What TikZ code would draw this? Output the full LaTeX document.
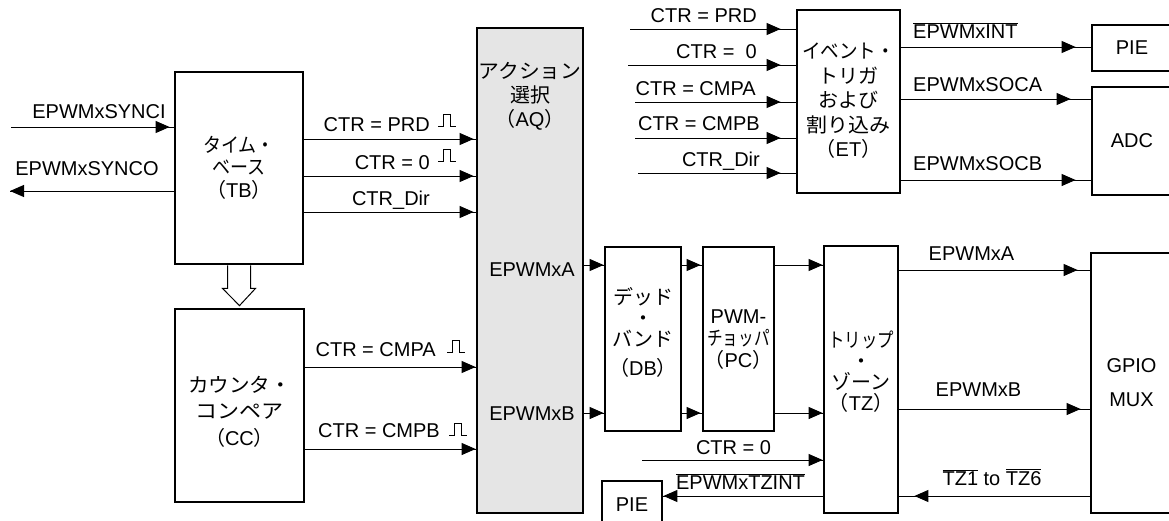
\documentclass[tikz,border=0pt]{standalone}
\usepackage{fontspec}
\usepackage{graphicx}
\setmainfont{Liberation Sans}
\newfontfamily\jp{Noto Sans CJK JP}
\usetikzlibrary{arrows.meta,calc}
\newcommand\ovl[1]{$\overline{\mbox{#1}}$}
\newcommand\hs[2]{\scalebox{#1}[1]{\jp #2}}
\tikzset{
  blk/.style={draw, line width=2.8pt, inner sep=0pt, align=center},
  txt/.style={inner sep=0pt, align=center, font=\fontsize{20}{#1}\selectfont},
  txt/.default=23,
  lbl/.style={inner sep=0pt},
  con/.style={line width=1pt},
  arr/.style={con, postaction={draw, shorten >=#1, -{Triangle[length=14pt,width=12pt]}}},
  arr/.default=0pt,
  pls/.pic={\draw[line width=1pt] (0,0) -- (5,0) -- (5,-12) -- (12,-12) -- (12,0) -- (18,0);}
}
\begin{document}
\begin{tikzpicture}[x=1pt,y=-1pt,font=\fontsize{20}{23}\selectfont]
\path[use as bounding box] (0,0) rectangle (1169,520);
\clip (0,0) rectangle (1169,520);

% boxes
\node[blk, minimum width=128pt, minimum height=192pt] (tb) at (239,168) {};
\node[blk, minimum width=129pt, minimum height=193pt] (cc) at (239.5,405.5) {};
\node[blk, fill=gray!20, minimum width=106pt, minimum height=485pt] (aq) at (530,270.5) {};
\node[blk, minimum width=76pt, minimum height=184pt] (db) at (643,339) {};
\node[blk, minimum width=71pt, minimum height=184pt] (pc) at (738.5,339) {};
\node[blk, minimum width=74pt, minimum height=267pt] (tz) at (861,379.5) {};
\node[blk, minimum width=103pt, minimum height=183pt] (et) at (848.5,101.5) {};
\node[blk, minimum width=80pt, minimum height=46pt] (pie1) at (1132,48) {PIE};
\node[blk, minimum width=80pt, minimum height=108pt] (adc) at (1132,141) {ADC};
\node[blk, minimum width=81pt, minimum height=260pt, font=\fontsize{20}{34}\selectfont] (gpio) at (1131.5,383) {GPIO\\MUX};
\node[blk, minimum width=60pt, minimum height=48pt] (pie2) at (632,505) {PIE};

% box texts
\node[txt=22.5] (tbt) at (239,167.5) {\hs{0.9}{タイム・}\\\hs{0.9}{ベース}\\{\jp （}TB{\jp ）}};
\node[txt=26.5] (cct) at (239.5,411.5) {\hs{1.03}{カウンタ・}\\\hs{1.1}{コンペア}\\{\jp （}CC{\jp ）}};
\node[txt=24] (aqt) at (530,96) {\hs{1.04}{アクション}\\{\jp 選択}\\{\jp （}AQ{\jp ）}};
\node[txt=21] (dbt) at (643,332) {{\jp デッド}\\{\jp ・}\\{\jp バンド}\\[8pt]{\jp （}DB{\jp ）}};
\node[txt=22] (pct) at (738.5,340) {PWM-\\\hs{0.78}{チョッパ}\\{\jp （}PC{\jp ）}};
\node[txt=21] (tzt) at (861,371.5) {\hs{0.82}{トリップ}\\{\jp ・}\\{\jp ゾーン}\\{\jp （}TZ{\jp ）}};
\node[txt=24.5] (ett) at (848.5,101) {\hs{0.93}{イベント・}\\{\jp トリガ}\\{\jp および}\\\hs{1.05}{割り込み}\\{\jp （}ET{\jp ）}};
\node[lbl, anchor=base east] (aqa) at (575,276) {EPWMxA};
\node[lbl, anchor=base east] (aqb) at (575,420) {EPWMxB};

% sync
\coordinate (si) at (11,127);
\coordinate (so) at (10,191);
\draw[arr=4pt] (si) -- (tb.west |- si);
\draw[arr] (tb.west |- so) -- (so);
\node[lbl, anchor=base] (sil) at (99,118) {EPWMxSYNCI};
\node[lbl, anchor=base] (sol) at (87,175) {EPWMxSYNCO};

% TB -> AQ
\draw[arr=2pt] (tb.east |- 0,139) -- (aq.west |- 0,139);
\draw[arr=2pt] (tb.east |- 0,176) -- (aq.west |- 0,176);
\draw[arr=2pt] (tb.east |- 0,212) -- (aq.west |- 0,212);
\node[lbl, anchor=base east] (l1) at (430,131.7) {CTR = PRD};
\node[lbl, anchor=base east] (l2) at (430,169) {CTR = 0};
\node[lbl, anchor=base east] (l3) at (430,205.7) {CTR\_Dir};
\pic at (438,126) {pls};
\pic at (438,161) {pls};

% CC -> AQ
\draw[arr] (cc.east |- 0,367) -- (aq.west |- 0,367);
\draw[arr] (cc.east |- 0,449) -- (aq.west |- 0,449);
\node[lbl, anchor=base east] (l4) at (436,356) {CTR = CMPA};
\node[lbl, anchor=base east] (l5) at (440,437) {CTR = CMPB};
\pic at (447,352) {pls};
\pic at (449,435) {pls};

% AQ -> DB -> PC -> TZ
\draw[arr] (aq.east |- 0,265) -- (db.west |- 0,265);
\draw[arr] (aq.east |- 0,413) -- (db.west |- 0,413);
\draw[arr=1pt] (db.east |- 0,265) -- (pc.west |- 0,265);
\draw[arr=1pt] (db.east |- 0,413) -- (pc.west |- 0,413);
\draw[arr] (pc.east |- 0,265) -- (tz.west |- 0,265);
\draw[arr] (pc.east |- 0,413) -- (tz.west |- 0,413);

% TZ -> GPIO
\draw[arr=12pt] (tz.east |- 0,270) -- (gpio.west |- 0,270);
\draw[arr=9pt] (tz.east |- 0,409) -- (gpio.west |- 0,409);
\draw[arr=15pt] (gpio.west |- 0,496) -- (tz.east |- 0,496);
\node[lbl, anchor=base] (l6) at (971.5,260) {EPWMxA};
\node[lbl, anchor=base] (l7) at (978.5,396.7) {EPWMxB};
\node[lbl, anchor=base] (l8) at (992,485) {\ovl{TZ1} to \ovl{TZ6}};

% TZ bottom
\coordinate (c0) at (642,460);
\draw[arr] (c0) -- (tz.west |- c0);
\node[lbl, anchor=base] (l9) at (733.5,454) {CTR = 0};
\draw[arr] (tz.west |- 0,496) -- (pie2.east |- 0,496);
\node[lbl, anchor=base] (l10) at (740.5,489) {\ovl{EPWMxTZINT}};

% ET inputs
\coordinate (e1) at (630,29);
\coordinate (e2) at (628,65);
\coordinate (e3) at (635,102);
\coordinate (e4) at (635,138);
\coordinate (e5) at (638,173);
\foreach \c in {e1,e2,e3,e4,e5}{\draw[arr=15pt] (\c) -- (et.west |- \c);}
\node[lbl, anchor=base east] (m1) at (757,22.7) {CTR = PRD};
\node[lbl, anchor=base east] (m2) at (757,58) {CTR = \ 0};
\node[lbl, anchor=base east] (m3) at (756,95) {CTR = CMPA};
\node[lbl, anchor=base east] (m4) at (760,130.7) {CTR = CMPB};
\node[lbl, anchor=base east] (m5) at (760,166.7) {CTR\_Dir};

% ET outputs
\draw[arr=15pt] (et.east |- 0,47) -- (pie1.west |- 0,47);
\draw[arr=20pt] (et.east |- 0,99) -- (adc.west |- 0,99);
\draw[arr=15pt] (et.east |- 0,180) -- (adc.west |- 0,180);
\node[lbl, anchor=base west] (n1) at (913,38.3) {\ovl{EPWMxINT}};
\node[lbl, anchor=base west] (n2) at (913,91.7) {EPWMxSOCA};
\node[lbl, anchor=base west] (n3) at (913,170) {EPWMxSOCB};

% hollow arrow TB -> CC
\draw[line width=1pt, fill=white]
  ($(tb.south)+(-11.5,0)$) -- ($(tb.south)+(-11.5,23)$) -- ($(tb.south)+(-16.5,23)$)
  -- ($(cc.north)+(0,-2)$)
  -- ($(tb.south)+(16.5,23)$) -- ($(tb.south)+(11.5,23)$) -- ($(tb.south)+(11.5,0)$);
\end{tikzpicture}
\end{document}
